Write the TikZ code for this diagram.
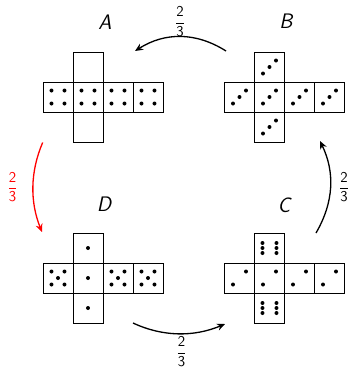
\documentclass[tikz,border=0pt]{standalone}
\usetikzlibrary{arrows.meta}
\tikzset{
  face/.style={draw, line width=0.8pt, minimum size=30pt, inner sep=0pt, outer sep=0pt},
  lbl/.style={font=\fontsize{21}{24}\selectfont\sffamily\slshape, inner sep=0pt},
  frac/.style={font=\fontsize{15}{17}\selectfont\sffamily, inner sep=0pt},
  conn/.style={line width=1.3pt, -{Stealth[length=8pt,width=7pt]}},
}
\newcommand\pd{6.5}
\newcommand\pip[3]{\fill ([shift={(#2,#3)}]#1.center) circle (2pt);}
\newcommand\dieface[4]{%
  \node[face] (#1) at (#2,#3) {};
  \ifcase#4\relax
  \or \pip{#1}{0}{0}%
  \or \pip{#1}{-\pd}{\pd}\pip{#1}{\pd}{-\pd}%
  \or \pip{#1}{-\pd}{\pd}\pip{#1}{0}{0}\pip{#1}{\pd}{-\pd}%
  \or \pip{#1}{-\pd}{\pd}\pip{#1}{\pd}{-\pd}\pip{#1}{-\pd}{-\pd}\pip{#1}{\pd}{\pd}%
  \or \pip{#1}{-\pd}{\pd}\pip{#1}{\pd}{-\pd}\pip{#1}{-\pd}{-\pd}\pip{#1}{\pd}{\pd}\pip{#1}{0}{0}%
  \or \pip{#1}{-7}{-5}\pip{#1}{-7}{0}\pip{#1}{-7}{5}\pip{#1}{7}{-5}\pip{#1}{7}{0}\pip{#1}{7}{5}%
  \fi}
\begin{document}
\begin{tikzpicture}[x=1pt,y=-1pt]
\useasboundingbox (0,0) rectangle (352,368);
% Net A
\dieface{A1}{58}{97}{4}
\dieface{A2}{88}{97}{4}
\dieface{A3}{118}{97}{4}
\dieface{A4}{148}{97}{4}
\dieface{At}{88}{67}{0}
\dieface{Ab}{88}{127}{0}
% Net B
\dieface{B1}{239.5}{97}{3}
\dieface{B2}{269.5}{97}{3}
\dieface{B3}{299.5}{97}{3}
\dieface{B4}{329.5}{97}{3}
\dieface{Bt}{269.5}{67}{3}
\dieface{Bb}{269.5}{127}{3}
% Net D
\dieface{D1}{58}{278}{5}
\dieface{D2}{88}{278}{1}
\dieface{D3}{118}{278}{5}
\dieface{D4}{148}{278}{5}
\dieface{Dt}{88}{248}{1}
\dieface{Db}{88}{308}{1}
% Net C
\dieface{C1}{239.5}{278}{2}
\dieface{C2}{269.5}{278}{2}
\dieface{C3}{299.5}{278}{2}
\dieface{C4}{329.5}{278}{2}
\dieface{Ct}{269.5}{248}{6}
\dieface{Cb}{269.5}{308}{6}
% labels
\node[lbl] (lA) at (105,22.5) {A};
\node[lbl] (lB) at (286,21.5) {B};
\node[lbl] (lD) at (104,204.5) {D};
\node[lbl] (lC) at (284,205.5) {C};
% connector end points
\coordinate (bs) at (226,51);
\coordinate (ae) at (135,51);
\coordinate (as) at (42.7,142.5);
\coordinate (de) at (42,232);
\coordinate (ds) at (133,323);
\coordinate (ce) at (225,324);
\coordinate (cs) at (316,233);
\coordinate (be) at (320,141);
\draw[conn] (bs) .. controls (196,32) and (165,32) .. (ae);
\draw[conn, red] (as) .. controls (30,172) and (30,202) .. (de);
\draw[conn] (ds) .. controls (163,337) and (194,337) .. (ce);
\draw[conn] (cs) .. controls (334,202) and (335,172) .. (be);
% fractions
\node[frac] (f1) at (180,21.5) {$\displaystyle\frac{\textsf{2}}{\textsf{3}}$};
\node[frac, text=red] (f2) at (12.5,187) {$\displaystyle\frac{\textsf{2}}{\textsf{3}}$};
\node[frac] (f3) at (181.5,351.5) {$\displaystyle\frac{\textsf{2}}{\textsf{3}}$};
\node[frac] (f4) at (344,187) {$\displaystyle\frac{\textsf{2}}{\textsf{3}}$};
\end{tikzpicture}
\end{document}
